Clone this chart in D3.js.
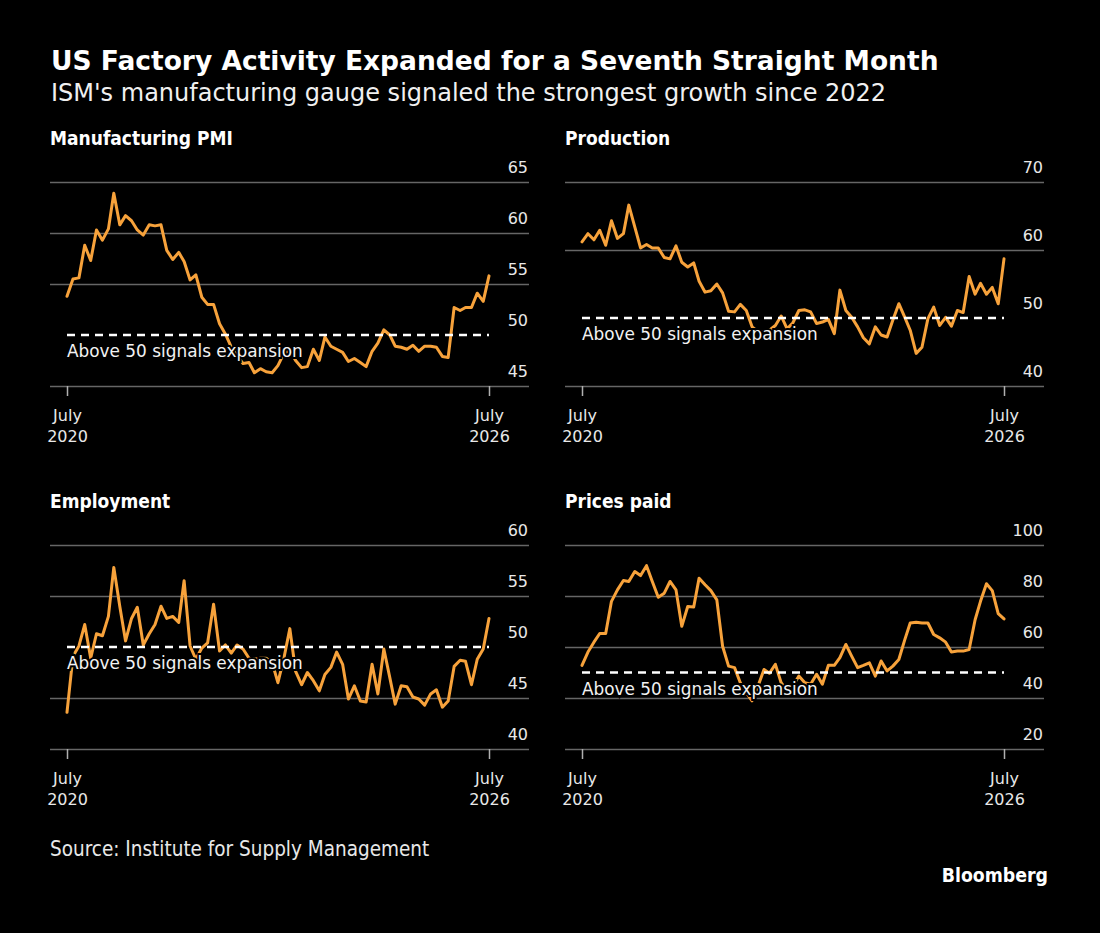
<!DOCTYPE html>
<html>
<head>
<meta charset="utf-8">
<script src="https://cdn.jsdelivr.net/npm/d3@7"></script>
<style>
  html, body { margin: 0; padding: 0; background: #000; }
  svg { display: block; }
  .cond { font-family: "DejaVu Sans Condensed", "DejaVu Sans", sans-serif; font-stretch: condensed; }
</style>
</head>
<body>
<div id="chart"></div>
<script>
// Monthly readings, July 2020 through July 2026
const pmiValues = [
  53.8, 55.5, 55.6, 58.8, 57.3, 60.3, 59.3, 60.4, 63.9, 60.8,
  61.7, 61.2, 60.3, 59.8, 60.8, 60.7, 60.8, 58.3, 57.4, 58.1,
  57.2, 55.4, 55.9, 53.7, 53.0, 53.0, 51.1, 50.1, 48.8, 48.0,
  47.2, 47.3, 46.3, 46.7, 46.4, 46.3, 47.0, 48.2, 48.5, 47.5,
  46.8, 46.9, 48.6, 47.5, 49.8, 48.9, 48.6, 48.3, 47.4, 47.7,
  47.3, 46.9, 48.4, 49.2, 50.5, 50.0, 48.9, 48.8, 48.6, 49.0,
  48.4, 48.9, 48.9, 48.8, 47.9, 47.8, 52.7, 52.4, 52.7, 52.7,
  54.1, 53.3, 55.8
];
const productionValues = [
  61.2, 62.4, 61.5, 62.9, 60.7, 64.3, 61.7, 62.4, 66.6, 63.4,
  60.3, 60.8, 60.3, 60.3, 58.9, 58.7, 60.6, 58.2, 57.5, 58.1,
  55.4, 53.8, 54.0, 55.0, 53.7, 51.0, 50.9, 52.0, 51.1, 48.7,
  48.0, 48.0, 48.2, 48.9, 50.3, 48.4, 49.3, 51.1, 51.2, 50.9,
  49.2, 49.4, 49.8, 47.7, 54.1, 51.1, 50.1, 48.7, 47.1, 46.2,
  48.7, 47.5, 47.2, 49.7, 52.1, 50.1, 48.2, 44.8, 45.7, 49.9,
  51.6, 48.9, 50.1, 48.8, 51.1, 50.8, 56.1, 53.5, 55.1, 53.5,
  54.5, 52.1, 58.7
];
const employmentValues = [
  43.6, 49.1, 50.1, 52.2, 48.9, 51.3, 51.1, 53.0, 57.8, 54.0,
  50.6, 52.8, 53.9, 50.2, 51.3, 52.2, 54.0, 52.8, 53.0, 52.4,
  56.5, 50.1, 48.8, 49.9, 50.4, 54.2, 49.6, 50.2, 49.4, 50.2,
  49.8, 48.9, 48.8, 48.9, 48.9, 48.5, 46.5, 48.9, 51.8, 47.6,
  46.3, 47.5, 46.7, 45.7, 47.3, 48.0, 49.5, 48.3, 44.9, 46.2,
  44.7, 44.6, 48.3, 45.4, 49.8, 47.0, 44.4, 46.2, 46.1, 45.1,
  44.9, 44.3, 45.4, 45.8, 44.1, 44.7, 48.1, 48.7, 48.6, 46.3,
  48.8, 49.8, 52.8
];
const pricesValues = [
  52.8, 58.0, 61.9, 65.3, 65.3, 77.9, 82.4, 86.1, 85.7, 89.6,
  88.0, 91.9, 85.7, 79.5, 81.1, 85.7, 82.4, 68.1, 75.9, 75.7,
  87.0, 84.4, 82.1, 78.5, 60.3, 52.5, 51.9, 46.0, 42.1, 38.9,
  44.7, 51.2, 49.7, 53.2, 46.0, 42.8, 44.7, 48.6, 46.0, 45.4,
  49.3, 45.4, 52.8, 52.8, 55.8, 61.0, 56.4, 51.9, 52.8, 53.8,
  48.6, 54.5, 50.6, 52.5, 55.1, 62.9, 69.4, 69.7, 69.4, 69.4,
  64.9, 63.6, 61.9, 58.0, 58.4, 58.4, 59.0, 70.7, 77.9, 84.8,
  82.1, 73.1, 71.0
];

// Axis ticks
const pmiTicks = [45, 50, 55, 60, 65];
const productionTicks = [40, 50, 60, 70];
const employmentTicks = [40, 45, 50, 55, 60];
const pricesTicks = [20, 40, 60, 80, 100];
const xTickLabels = [["July", "2020"], ["July", "2026"]];

const panelTitles = ["Manufacturing PMI", "Production", "Employment", "Prices paid"];
const threshold = 50;
const thresholdLabel = "Above 50 signals expansion";

const months = d3.timeMonth.range(new Date(2020, 6, 1), new Date(2026, 7, 1));

// Layout
const W = 1100, H = 933;
const colX = [50, 565], rowY = [182, 545];
const gridW = 479, padL = 17, plotW = 422, plotH = 204;

const orange = "#f7a23b", grid = "#666", textCol = "#e8e8e8";

const svg = d3.select("#chart").append("svg")
    .attr("width", W)
    .attr("height", H)
    .style("background", "#000");

// Headline
svg.append("text")
    .attr("x", 51).attr("y", 70)
    .attr("fill", "#fff")
    .style("font-family", "DejaVu Sans")
    .style("font-weight", "bold")
    .style("font-size", "26.5px")
    .text("US Factory Activity Expanded for a Seventh Straight Month");

svg.append("text")
    .attr("x", 51).attr("y", 101)
    .attr("fill", "#f0f0f0")
    .style("font-family", "DejaVu Sans")
    .style("font-size", "24px")
    .text("ISM's manufacturing gauge signaled the strongest growth since 2022");

const panels = [
  {title: panelTitles[0], values: pmiValues, ticks: pmiTicks, col: 0, row: 0},
  {title: panelTitles[1], values: productionValues, ticks: productionTicks, col: 1, row: 0},
  {title: panelTitles[2], values: employmentValues, ticks: employmentTicks, col: 0, row: 1},
  {title: panelTitles[3], values: pricesValues, ticks: pricesTicks, col: 1, row: 1}
];

panels.forEach(p => {
    const x0 = colX[p.col], y0 = rowY[p.row];
    const g = svg.append("g").attr("transform", "translate(" + x0 + "," + y0 + ")");

    const x = d3.scaleTime()
        .domain([months[0], months[months.length - 1]])
        .range([padL, padL + plotW]);
    const y = d3.scaleLinear()
        .domain(d3.extent(p.ticks))
        .range([plotH, 0]);

    // Panel title
    g.append("text")
        .attr("class", "cond")
        .attr("x", 0).attr("y", -37)
        .attr("fill", "#fff")
        .style("font-weight", "bold")
        .style("font-size", "19px")
        .text(p.title);

    // Gridlines with labels sitting above them
    const yAxis = g.append("g")
        .attr("transform", "translate(" + gridW + ",0)")
        .call(d3.axisLeft(y).tickValues(p.ticks).tickSize(gridW).tickSizeOuter(0));
    yAxis.select(".domain").remove();
    yAxis.selectAll(".tick line")
        .attr("stroke", grid)
        .attr("stroke-width", 1.4)
        .filter(d => d === threshold).remove();
    yAxis.selectAll(".tick text")
        .attr("x", -1)
        .attr("dy", null)
        .attr("y", -10)
        .attr("fill", textCol)
        .attr("text-anchor", "end")
        .style("font-family", "DejaVu Sans")
        .style("font-size", "16px");

    // Two x ticks: first and last month
    const xAxis = g.append("g")
        .attr("transform", "translate(0," + plotH + ")")
        .call(d3.axisBottom(x).tickValues([months[0], months[months.length - 1]]).tickSize(10).tickFormat(""));
    xAxis.select(".domain").remove();
    xAxis.selectAll(".tick line").attr("stroke", "#b0b0b0").attr("stroke-width", 1.5);
    xAxis.selectAll(".tick text").remove();
    xAxis.selectAll(".tick").each(function(d, i) {
        const t = d3.select(this).append("text")
            .attr("fill", textCol)
            .attr("text-anchor", "middle")
            .style("font-family", "DejaVu Sans")
            .style("font-size", "16px");
        t.append("tspan").attr("x", 0).attr("y", 35).text(xTickLabels[i][0]);
        t.append("tspan").attr("x", 0).attr("y", 56).text(xTickLabels[i][1]);
    });

    // Series line
    const line = d3.line()
        .x((d, i) => x(months[i]))
        .y(d => y(d));

    g.append("path")
        .datum(p.values)
        .attr("d", line)
        .attr("fill", "none")
        .attr("stroke", orange)
        .attr("stroke-width", 3)
        .attr("stroke-linejoin", "round")
        .attr("stroke-linecap", "round");

    // 50 threshold
    g.append("line")
        .attr("x1", x(months[0]))
        .attr("x2", x(months[months.length - 1]))
        .attr("y1", y(threshold))
        .attr("y2", y(threshold))
        .attr("stroke", "#fff")
        .attr("stroke-width", 2.5)
        .attr("stroke-dasharray", "8,6");

    g.append("text")
        .attr("x", x(months[0]))
        .attr("y", y(threshold) + 22)
        .attr("fill", "#f2f2f2")
        .attr("stroke", "#000")
        .attr("stroke-width", 4)
        .attr("paint-order", "stroke")
        .style("font-family", "DejaVu Sans")
        .style("font-size", "16.9px")
        .text(thresholdLabel);
});

// Footer
svg.append("text")
    .attr("class", "cond")
    .attr("x", 50).attr("y", 856)
    .attr("fill", textCol)
    .style("font-size", "20.5px")
    .text("Source: Institute for Supply Management");

svg.append("text")
    .attr("class", "cond")
    .attr("x", 1048).attr("y", 882)
    .attr("text-anchor", "end")
    .attr("fill", "#fff")
    .style("font-weight", "bold")
    .style("font-size", "19.3px")
    .text("Bloomberg");
</script>
</body>
</html>
